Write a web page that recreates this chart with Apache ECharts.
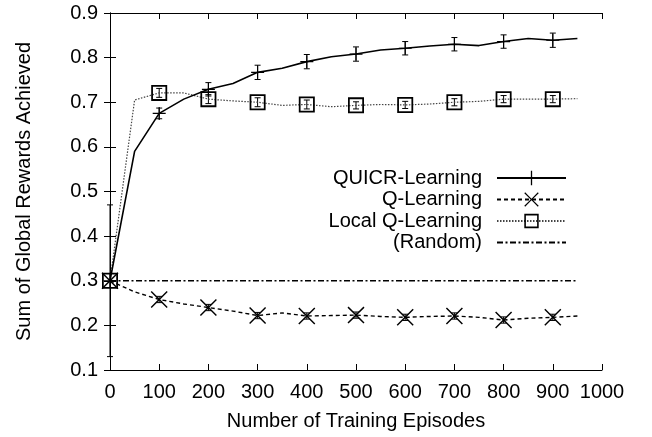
<!DOCTYPE html>
<html>
<head>
<meta charset="utf-8">
<script src="https://cdn.jsdelivr.net/npm/echarts@6/dist/echarts.min.js"></script>
<style>html,body{margin:0;padding:0;background:#fff;}#c{width:652px;height:437px;}</style>
</head>
<body>
<div id="c"></div>
<script>
// ---- data ----
const episodes = [0,50,100,150,200,250,300,350,400,450,500,550,600,650,700,750,800,850,900,950];
const quicr  = [0.300,0.590,0.675,0.707,0.729,0.742,0.767,0.776,0.791,0.802,0.808,0.817,0.821,0.826,0.830,0.827,0.836,0.843,0.839,0.843];
const qLearn = [0.300,0.275,0.258,0.248,0.240,0.232,0.222,0.228,0.221,0.222,0.223,0.220,0.218,0.220,0.221,0.218,0.212,0.216,0.218,0.221];
const localQ = [0.300,0.705,0.721,0.721,0.707,0.703,0.700,0.693,0.695,0.690,0.693,0.695,0.694,0.696,0.700,0.702,0.707,0.707,0.707,0.708];
const randomX = [0, 950];
const randomY = [0.300, 0.300];
// error half-widths at the marked episodes (0,100,...,900)
const quicrErr  = [0.170,0.012,0.015,0.016,0.016,0.016,0.015,0.015,0.015,0.016];
const qLearnErr = [0.000,0.007,0.007,0.007,0.007,0.007,0.007,0.007,0.007,0.007];
const localQErr = [0.000,0.010,0.010,0.010,0.010,0.008,0.008,0.008,0.008,0.008];
const xTicks = [0,100,200,300,400,500,600,700,800,900,1000];
const yTicks = [0.1,0.2,0.3,0.4,0.5,0.6,0.7,0.8,0.9];
const names = ['QUICR-Learning','Q-Learning','Local Q-Learning','(Random)'];

const PLUS = 'path://M4.55,0H5.45V4.55H10V5.45H5.45V10H4.55V5.45H0V4.55H4.55Z';
const CROSS = 'path://M0,0.6L0.6,0L5,4.4L9.4,0L10,0.6L5.6,5L10,9.4L9.4,10L5,5.6L0.6,10L0,9.4L4.4,5Z';
const BOX = 'path://M0,0H10V10H0Z M1.1,1.1V8.9H8.9V1.1Z';

function lineData(ys) {
  return episodes.map((x, i) => (x % 100 === 0) ? {value: [x, ys[i]]} : {value: [x, ys[i]], symbol: 'none'});
}
function errData(ys, errs) {
  const out = [];
  episodes.forEach((x, i) => {
    if (x % 100 === 0) {
      const e = errs[x / 100];
      if (e > 0) out.push([x, ys[i] - e, ys[i] + e]);
    }
  });
  return out;
}
function errSeries(ys, errs) {
  return {
    type: 'custom', xAxisIndex: 0, yAxisIndex: 0, silent: true, z: 1,
    data: errData(ys, errs),
    encode: {x: 0, y: [1, 2]},
    renderItem: function (params, api) {
      const x = api.value(0);
      const p1 = api.coord([x, api.value(1)]);
      const p2 = api.coord([x, api.value(2)]);
      const st = {stroke: '#000', lineWidth: 1};
      return {type: 'group', children: [
        {type: 'line', shape: {x1: p1[0], y1: p1[1], x2: p2[0], y2: p2[1]}, style: st},
        {type: 'line', shape: {x1: p1[0] - 3, y1: p1[1], x2: p1[0] + 3, y2: p1[1]}, style: st},
        {type: 'line', shape: {x1: p2[0] - 3, y1: p2[1], x2: p2[0] + 3, y2: p2[1]}, style: st}
      ]};
    }
  };
}

const FONT = 'Liberation Sans';
const axisCommon = {
  axisLine: {show: true, lineStyle: {color: '#000', width: 1}},
  axisTick: {show: true, inside: true, length: 6, lineStyle: {color: '#000', width: 1}},
  splitLine: {show: false}
};

const chart = echarts.init(document.getElementById('c'), null, {renderer: 'canvas'});
chart.setOption({
  animation: false,
  backgroundColor: '#fff',
  grid: {left: 110, right: 50, top: 13, bottom: 67},
  legend: {
    data: names,
    orient: 'vertical',
    align: 'right',
    right: 80,
    top: 163,
    itemWidth: 69,
    itemHeight: 18,
    itemGap: 1.5,
    selectedMode: false,
    textStyle: {fontFamily: FONT, fontSize: 20, color: '#000', padding: [0, 10, 0, 0]}
  },
  xAxis: [
    Object.assign({
      type: 'value', position: 'bottom', min: 0, max: 1000, interval: 100,
      name: 'Number of Training Episodes', nameLocation: 'middle', nameGap: 41,
      nameTextStyle: {fontFamily: FONT, fontSize: 20, color: '#000'},
      axisLabel: {fontFamily: FONT, fontSize: 20, color: '#000', margin: 12,
        formatter: v => (xTicks.indexOf(v) >= 0 ? String(v) : '')}
    }, axisCommon),
    Object.assign({
      type: 'value', position: 'top', min: 0, max: 1000, interval: 100,
      axisLabel: {show: false}
    }, axisCommon)
  ],
  yAxis: [
    Object.assign({
      type: 'value', position: 'left', min: 0.1, max: 0.9, interval: 0.1,
      name: 'Sum of Global Rewards Achieved', nameLocation: 'middle', nameGap: 76,
      nameTextStyle: {fontFamily: FONT, fontSize: 20, color: '#000'},
      axisLabel: {fontFamily: FONT, fontSize: 20, color: '#000', margin: 12,
        formatter: v => {
          const t = yTicks.find(k => Math.abs(k - v) < 1e-6);
          return t !== undefined ? t.toFixed(1) : '';
        }}
    }, axisCommon),
    Object.assign({
      type: 'value', position: 'right', min: 0.1, max: 0.9, interval: 0.1,
      axisLabel: {show: false}
    }, axisCommon)
  ],
  series: [
    {
      name: names[0], type: 'line', data: lineData(quicr), z: 5,
      symbol: PLUS, symbolSize: 13,
      lineStyle: {color: '#000', width: 1.6, type: 'solid'},
      itemStyle: {color: '#000', borderWidth: 0}
    },
    {
      name: names[1], type: 'line', data: lineData(qLearn), z: 4,
      symbol: CROSS, symbolSize: 17,
      lineStyle: {color: '#000', width: 1.4, type: [4, 3]},
      itemStyle: {color: '#000', borderWidth: 0}
    },
    {
      name: names[2], type: 'line', data: lineData(localQ), z: 3,
      symbol: BOX, symbolSize: 16,
      lineStyle: {color: '#444', width: 1.2, type: [1.5, 1.5]},
      itemStyle: {color: '#000', borderWidth: 0}
    },
    {
      name: names[3], type: 'line', z: 2,
      data: randomX.map((x, i) => [x, randomY[i]]),
      symbol: 'none',
      lineStyle: {color: '#000', width: 1.7, type: [6, 2.5, 2, 2.5]},
      itemStyle: {color: 'rgba(0,0,0,0)', borderWidth: 0}
    },
    errSeries(quicr, quicrErr),
    errSeries(qLearn, qLearnErr),
    errSeries(localQ, localQErr)
  ]
});
</script>
</body>
</html>
